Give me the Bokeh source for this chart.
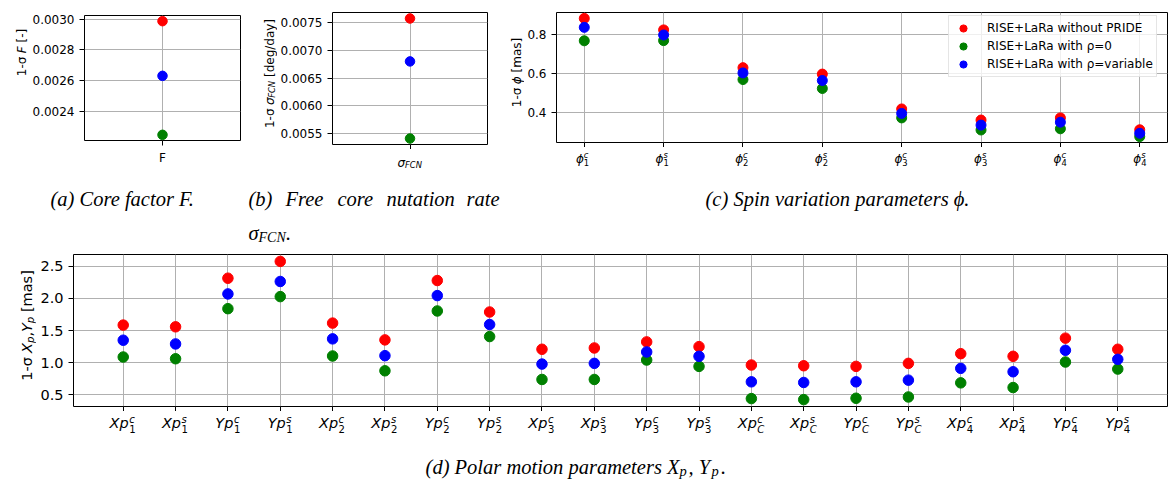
import math
from bokeh.plotting import figure
from bokeh.models import (Range1d, FixedTicker, PrintfTickFormatter, Label, LabelSet,
                          ColumnDataSource)
from bokeh.layouts import column, row
from bokeh.embed import file_html
from bokeh.resources import INLINE
from bokeh.core.properties import value

# ---------------- data ----------------
series_names = ["RISE+LaRa without PRIDE", "RISE+LaRa with ρ=0", "RISE+LaRa with ρ=variable"]
series_colors = ["red", "green", "blue"]

# (a) core factor F
F_no_pride = [0.002987]
F_rho0 = [0.002247]
F_rhovar = [0.002631]
F_ticks = [0.0024, 0.0026, 0.0028, 0.0030]

# (b) FCN rate
fcn_no_pride = [0.007572]
fcn_rho0 = [0.00541]
fcn_rhovar = [0.006799]
fcn_ticks = [0.0055, 0.0060, 0.0065, 0.0070, 0.0075]

# (c) spin variation parameters
phi_base = ["ϕ"] * 8
phi_sub = ["1", "1", "2", "2", "3", "3", "4", "4"]
phi_sup = ["c", "s", "c", "s", "c", "s", "c", "s"]
phi_no_pride = [0.883, 0.824, 0.630, 0.597, 0.418, 0.361, 0.372, 0.311]
phi_rho0 = [0.768, 0.769, 0.569, 0.523, 0.372, 0.310, 0.316, 0.276]
phi_rhovar = [0.837, 0.798, 0.603, 0.564, 0.395, 0.335, 0.350, 0.293]
phi_ticks = [0.4, 0.6, 0.8]

# (d) polar motion parameters
pm_base = ["Xp", "Xp", "Yp", "Yp"] * 5
pm_sub = ["1"] * 4 + ["2"] * 4 + ["3"] * 4 + ["C"] * 4 + ["4"] * 4
pm_sup = ["c", "s"] * 10
pm_no_pride = [1.585, 1.558, 2.316, 2.578, 1.616, 1.354, 2.280, 1.789, 1.208, 1.228,
               1.323, 1.249, 0.962, 0.951, 0.941, 0.988, 1.139, 1.098, 1.381, 1.208]
pm_rho0 = [1.087, 1.060, 1.841, 2.029, 1.103, 0.872, 1.805, 1.406, 0.737, 0.737,
           1.040, 0.941, 0.439, 0.423, 0.444, 0.464, 0.684, 0.611, 1.009, 0.899]
pm_rhovar = [1.349, 1.291, 2.071, 2.265, 1.370, 1.108, 2.045, 1.594, 0.977, 0.988,
             1.166, 1.098, 0.700, 0.690, 0.700, 0.726, 0.910, 0.857, 1.192, 1.051]
pm_ticks = [0.5, 1.0, 1.5, 2.0, 2.5]

# ---------------- helpers ----------------
SANS = "DejaVu Sans"
SERIF = "Liberation Serif"
GRID = "#b0b0b0"
CAP = 20.5

DV_W = {'1': 0.636, '-': 0.361, 'σ': 0.602, ' ': 0.318, 'X': 0.685, 'Y': 0.611, 'p': 0.635,
        ',': 0.318, '[': 0.390, ']': 0.390, 'm': 0.974, 'a': 0.613, 's': 0.521, 'F': 0.575,
        'C': 0.698, 'N': 0.748, 'd': 0.635, 'e': 0.615, 'g': 0.635, '/': 0.337, 'y': 0.592,
        'ϕ': 0.667}


def padded(*arrs):
    vals = [v for a in arrs for v in a]
    lo, hi = min(vals), max(vals)
    pad = 0.05 * (hi - lo)
    return Range1d(lo - pad, hi + pad)


def make_fig(width, height, left, right, top, bottom, x_range, y_range, fs, hide_x_labels):
    p = figure(width=width, height=height, x_range=x_range, y_range=y_range,
               output_backend="svg", toolbar_location=None, tools="",
               min_border_left=left, min_border_right=right,
               min_border_top=top, min_border_bottom=bottom)
    p.outline_line_color = "black"
    p.outline_line_width = 1
    p.outline_line_alpha = 1
    p.background_fill_color = "white"
    p.border_fill_color = "white"
    for ax in p.axis:
        ax.axis_line_color = None
        ax.major_tick_line_color = "black"
        ax.major_tick_in = 0
        ax.major_tick_out = 5
        ax.minor_tick_line_color = None
        ax.major_label_text_font = SANS
        ax.major_label_text_font_size = f"{fs}px"
        ax.major_label_text_color = "black"
        ax.major_label_standoff = 5
    if hide_x_labels:
        p.xaxis.major_label_text_font_size = "0px"
        p.xaxis.major_label_text_color = None
        p.xaxis.major_label_standoff = 0
    p.grid.grid_line_color = GRID
    p.grid.grid_line_width = 1
    return p


def make_text_fig(width, height, x_range=None):
    t = figure(width=width, height=height,
               x_range=x_range if x_range is not None else Range1d(0, width),
               y_range=Range1d(height, 0), output_backend="svg", toolbar_location=None,
               tools="", x_axis_type=None, y_axis_type=None, min_border=0)
    t.outline_line_color = None
    t.background_fill_color = "white"
    t.border_fill_color = "white"
    return t


def ext_range(rng, frame_left, frame_w, total_w):
    ppu = frame_w / (rng.end - rng.start)
    return Range1d(rng.start - frame_left / ppu, rng.end + (total_w - frame_left - frame_w) / ppu)


def vlabel(p, pieces, x, yc, size):
    """Rotated (bottom-to-top) label made of styled pieces; screen units."""
    def w_of(t, fs):
        return sum(DV_W.get(c, 0.6) for c in t) * fs
    items = []
    for t, style, script in pieces:
        fs = size * 0.7 if script else size
        items.append((t, style, script, fs, w_of(t, fs)))
    y = yc - sum(it[4] for it in items) / 2
    for t, style, script, fs, w in items:
        lead = len(t) - len(t.lstrip(' '))
        ys = y + lead * DV_W[' '] * fs
        dx = size * 0.22 if script == "sub" else 0
        p.add_layout(Label(x=x + dx, y=ys, x_units="screen", y_units="screen", text=t.strip(),
                           angle=math.pi / 2, text_font=SANS, text_font_style=style,
                           text_font_size=f"{fs:.1f}px", text_align="left",
                           text_baseline="alphabetic", text_color="black"))
        y += w


def caption(t, text, x, y, size=CAP, align="left", style="italic"):
    t.add_layout(Label(x=x, y=y, x_units="screen", text=text,
                       text_font=SERIF, text_font_style=style, text_font_size=f"{size}px",
                       text_align=align, text_baseline="alphabetic", text_color="black"))


def scripted_ticks(t, xs, base, sup, sub, base_fs, y_base, y_sup, y_sub, dx_base, dx_scr):
    src = ColumnDataSource(dict(x=xs, base=base, sup=sup, sub=sub,
                                sub_style=["normal" if s.isdigit() else "italic" for s in sub]))
    sfs = base_fs * 0.7
    t.add_layout(LabelSet(x="x", y=y_base, text="base", source=src,
                          x_offset=dx_base, text_align="right", text_baseline="alphabetic",
                          text_font=value(SANS), text_font_style="italic",
                          text_font_size=f"{base_fs}px", text_color="black"))
    t.add_layout(LabelSet(x="x", y=y_sup, text="sup", source=src,
                          x_offset=dx_scr, text_align="left", text_baseline="alphabetic",
                          text_font=value(SANS), text_font_style="italic",
                          text_font_size=f"{sfs:.1f}px", text_color="black"))
    t.add_layout(LabelSet(x="x", y=y_sub, text="sub", source=src,
                          x_offset=dx_scr, text_align="left", text_baseline="alphabetic",
                          text_font=value(SANS), text_font_style="sub_style",
                          text_font_size=f"{sfs:.1f}px", text_color="black"))


TOP_H = 246

# ---------------- (a) core factor ----------------
fa = make_fig(217, 167, 56, 5, 15, 24, Range1d(-1, 1),
              padded(F_no_pride, F_rho0, F_rhovar), 12, False)
for vals, col in zip([F_no_pride, F_rho0, F_rhovar], series_colors):
    fa.scatter([0] * len(vals), vals, size=9.5, color=col)
fa.xaxis.ticker = FixedTicker(ticks=[0])
fa.xaxis.major_label_overrides = {0: "F"}
fa.yaxis.ticker = FixedTicker(ticks=F_ticks)
fa.yaxis.formatter = PrintfTickFormatter(format="%.4f")

sa = make_text_fig(28, 167)
vlabel(sa, [("1-σ ", "normal", None), ("F", "italic", None), (" [-]", "normal", None)], 21, 88, 12)

ta = make_text_fig(245, TOP_H - 167)
caption(ta, "(a) Core factor F.", 50, 31.5)

col_a = column(row(sa, fa), ta)

# ---------------- (b) FCN ----------------
xr_b = Range1d(-1, 1)
fb = make_fig(223, 149, 54, 13, 12, 5, xr_b,
              padded(fcn_no_pride, fcn_rho0, fcn_rhovar), 12, True)
for vals, col in zip([fcn_no_pride, fcn_rho0, fcn_rhovar], series_colors):
    fb.scatter([0] * len(vals), vals, size=9.5, color=col)
fb.xaxis.ticker = FixedTicker(ticks=[0])
fb.yaxis.ticker = FixedTicker(ticks=fcn_ticks)
fb.yaxis.formatter = PrintfTickFormatter(format="%.4f")

sb = make_text_fig(32, 149)
vlabel(sb, [("1-σ ", "normal", None), ("σ", "italic", None), ("FCN", "italic", "sub"),
            (" [deg/day]", "normal", None)], 24, 71, 12)

tb = make_text_fig(255, TOP_H - 149, ext_range(xr_b, 86, 156, 255))
tb.add_layout(Label(x=0, y=13, x_offset=-4.5, text="σ", text_font=SANS,
                    text_font_style="italic", text_font_size="12px", text_align="right",
                    text_baseline="alphabetic", text_color="black"))
tb.add_layout(Label(x=0, y=15.5, x_offset=-4.5, text="FCN", text_font=SANS,
                    text_font_style="italic", text_font_size="8.4px", text_align="left",
                    text_baseline="alphabetic", text_color="black"))
for word, wx in zip(["(b)", "Free", "core", "nutation", "rate"], [3, 40, 92, 141, 221]):
    caption(tb, word, wx, 49.5)
caption(tb, "σ", 3, 83)
caption(tb, "FCN", 13, 88, size=14)
caption(tb, ".", 40, 83, style="normal")

col_b = column(row(sb, fb), tb)

# ---------------- (c) spin variations ----------------
xr_c = Range1d(-0.35, 7.35)
fc = make_fig(645, 147, 30, 2, 12, 5, xr_c,
              padded(phi_no_pride, phi_rho0, phi_rhovar), 12, True)
phi_x = list(range(len(phi_no_pride)))
for vals, col, name in zip([phi_no_pride, phi_rho0, phi_rhovar], series_colors, series_names):
    fc.scatter(phi_x, vals, size=10, color=col, legend_label=name)
fc.xaxis.ticker = FixedTicker(ticks=phi_x)
fc.yaxis.ticker = FixedTicker(ticks=phi_ticks)
fc.yaxis.formatter = PrintfTickFormatter(format="%.1f")

lg = fc.legend[0]
lg.location = (392, 65)
lg.margin = 0
lg.padding = 3
lg.spacing = 0
lg.glyph_width = 22
lg.glyph_height = 18
lg.label_height = 18
lg.label_standoff = 13
lg.label_text_font = SANS
lg.label_text_font_size = "12px"
lg.label_text_color = "black"
lg.border_line_color = "#cccccc"
lg.border_line_width = 1
lg.background_fill_color = "white"
lg.background_fill_alpha = 0.8

sc = make_text_fig(24, 147)
vlabel(sc, [("1-σ ", "normal", None), ("ϕ", "italic", None), (" [mas]", "normal", None)], 16, 70, 12)

tc = make_text_fig(669, TOP_H - 147, ext_range(xr_c, 54, 613, 669))
scripted_ticks(tc, phi_x, phi_base, phi_sup, phi_sub, 12, 15, 10, 18.7, 1.5, 1.5)
caption(tc, "(c) Spin variation parameters ϕ.", 205, 51.5)

col_c = column(row(sc, fc), tc)

# ---------------- (d) polar motion ----------------
xr_d = Range1d(-0.95, 19.95)
fd = make_fig(1133, 165, 37, 2, 8, 5, xr_d,
              padded(pm_no_pride, pm_rho0, pm_rhovar), 14.5, True)
pm_x = list(range(len(pm_no_pride)))
for vals, col in zip([pm_no_pride, pm_rho0, pm_rhovar], series_colors):
    fd.scatter(pm_x, vals, size=10.5, color=col)
fd.xaxis.ticker = FixedTicker(ticks=pm_x)
fd.yaxis.ticker = FixedTicker(ticks=pm_ticks)
fd.yaxis.formatter = PrintfTickFormatter(format="%.1f")

sd = make_text_fig(36, 165)
vlabel(sd, [("1-σ ", "normal", None), ("X", "italic", None), ("p", "italic", "sub"),
            (",", "normal", None), ("Y", "italic", None), ("p", "italic", "sub"),
            (" [mas]", "normal", None)], 26.5, 81, 14.5)

td = make_text_fig(1169, 484 - TOP_H - 165, ext_range(xr_d, 73, 1094, 1169))
scripted_ticks(td, pm_x, pm_base, pm_sup, pm_sub, 14.5, 16.7, 11, 21.2, 5.5, 6)
caption(td, "(d) Polar motion parameters X", 679, 55.5, align="right")
caption(td, "p", 679, 59.5, size=14.5)
caption(td, ", Y", 688, 55.5)
caption(td, "p", 711, 59.5, size=14.5)
caption(td, ".", 720, 55.5, style="normal")

col_d = column(row(sd, fd), td)

layout = column(row(col_a, col_b, col_c), col_d)
open("out.html", "w").write(file_html(layout, INLINE))
